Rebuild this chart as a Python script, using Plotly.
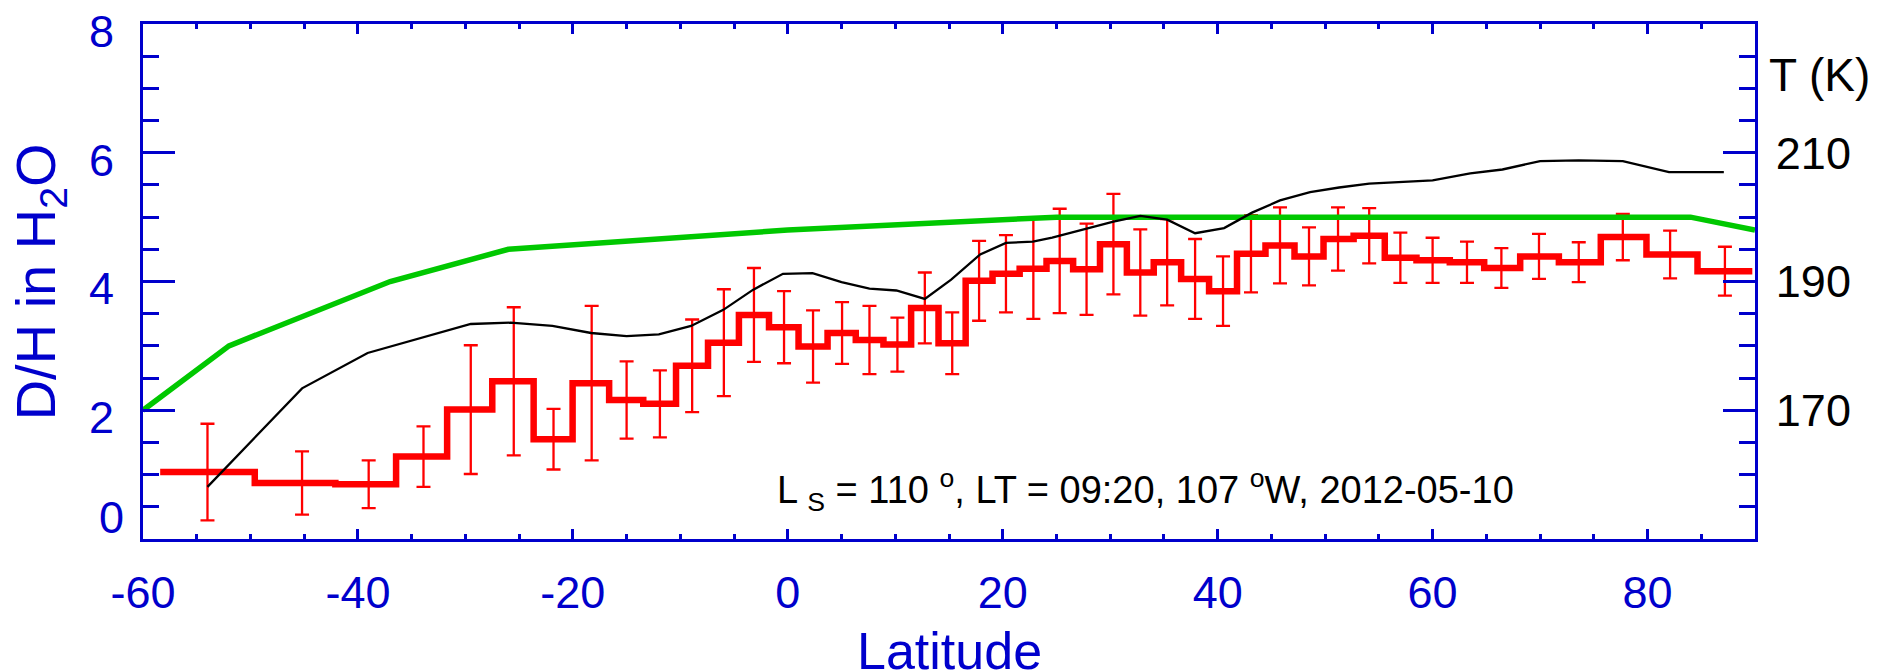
import plotly.graph_objects as go

# ---------------- data ----------------
# Retrieved D/H (red histogram with error bars)
dh_lat = [-54.0, -45.2, -39.0, -33.9, -29.5, -25.5, -21.8, -18.25, -15.0, -11.9,
          -8.9, -5.95, -3.15, -0.35, 2.35, 5.05, 7.6, 10.2, 12.75, 15.3,
          17.8, 20.3, 22.85, 25.3, 27.8, 30.3, 32.8, 35.3, 37.9, 40.5,
          43.1, 45.8, 48.5, 51.2, 54.1, 57.0, 60.0, 63.2, 66.4, 69.9,
          73.6, 77.7, 82.1, 87.2]
dh_val = [1.04, 0.87, 0.85, 1.28, 2.01, 2.45, 1.55, 2.42, 2.16, 2.10,
          2.69, 3.05, 3.48, 3.29, 2.99, 3.20, 3.09, 3.02, 3.59, 3.04,
          4.01, 4.12, 4.20, 4.32, 4.19, 4.58, 4.14, 4.30, 4.04, 3.85,
          4.43, 4.56, 4.39, 4.66, 4.71, 4.37, 4.33, 4.30, 4.21, 4.39,
          4.30, 4.69, 4.42, 4.16]
dh_err = [0.75, 0.49, 0.37, 0.47, 1.00, 1.15, 0.47, 1.20, 0.60, 0.52,
          0.72, 0.83, 0.73, 0.56, 0.56, 0.48, 0.53, 0.42, 0.55, 0.48,
          0.62, 0.60, 0.78, 0.81, 0.71, 0.78, 0.67, 0.67, 0.62, 0.54,
          0.60, 0.59, 0.45, 0.49, 0.43, 0.39, 0.35, 0.32, 0.31, 0.35,
          0.31, 0.36, 0.37, 0.38]

# Model D/H (green)
model_lat = [-60, -52, -37, -26, 0, 25, 84, 90]
model_dh = [2.0, 3.0, 4.0, 4.5, 4.8, 5.0, 5.0, 4.8]

# Temperature (black, right axis, K)
t_lat = [-54.0, -45.2, -39.1, -33.9, -29.5, -25.8, -21.9, -18.3, -15.0, -12.0,
         -9.0, -6.0, -3.25, -0.45, 2.3, 5.0, 7.6, 10.1, 12.75, 15.2,
         17.9, 20.3, 22.8, 24.6, 27.7, 30.3, 32.8, 35.3, 37.9, 40.6,
         43.2, 45.8, 48.6, 51.3, 54.1, 57.0, 60.0, 63.5, 66.5, 70.0,
         73.6, 77.7, 82.0, 87.1]
t_val = [158.1, 173.4, 178.9, 181.4, 183.4, 183.6, 183.1, 182.0, 181.5, 181.8,
         183.1, 185.6, 188.7, 191.2, 191.3, 189.9, 188.9, 188.6, 187.3, 190.3,
         194.2, 196.0, 196.2, 196.8, 198.1, 199.3, 200.2, 199.6, 197.5, 198.3,
         200.7, 202.6, 203.9, 204.6, 205.2, 205.4, 205.7, 206.8, 207.4, 208.7,
         208.8, 208.7, 207.0, 207.0]

x_ticks = [-60, -40, -20, 0, 20, 40, 60, 80]
x_ticktext = ["-60", "-40", "-20", "0", "20", "40", "60", "80"]
y_ticks = [2, 4, 6, 8]          # the "0" label sits raised, drawn separately
y_zero_label = "0"
y_zero_label_pos = 0.34
t_ticks = [170, 190, 210]

info_text = "L <sub>S</sub> = 110 <sup>o</sup>, LT = 09:20, 107 <sup>o</sup>W, 2012-05-10"

# ---------------- styling ----------------
BLUE = "#0000CC"
RED = "#FF0000"
GREEN = "#00C800"
FONT = "Liberation Sans, Arial, Helvetica, sans-serif"

# histogram-style step: extend half a bin beyond the first and last centres
x0 = dh_lat[0] - (dh_lat[1] - dh_lat[0]) / 2
x1 = dh_lat[-1] + (dh_lat[-1] - dh_lat[-2]) / 2
step_x = [x0] + dh_lat + [x1]
step_y = [dh_val[0]] + dh_val + [dh_val[-1]]

fig = go.Figure()

fig.add_trace(go.Scatter(
    x=step_x, y=step_y, mode="lines", line=dict(color=RED, width=6.5, shape="hvh"),
    hoverinfo="skip"))

fig.add_trace(go.Scatter(
    x=dh_lat, y=dh_val, mode="markers", marker=dict(size=1, color=RED),
    error_y=dict(type="data", array=dh_err, visible=True, color=RED,
                 thickness=2.3, width=7),
    hoverinfo="skip"))

fig.add_trace(go.Scatter(
    x=model_lat, y=model_dh, mode="lines", line=dict(color=GREEN, width=5.5),
    hoverinfo="skip"))

fig.add_trace(go.Scatter(
    x=t_lat, y=t_val, mode="lines", line=dict(color="black", width=2.3),
    yaxis="y2", hoverinfo="skip"))

fig.update_layout(
    width=1878, height=672,
    margin=dict(l=143, r=123, t=24, b=133, autoexpand=False),
    plot_bgcolor="white", paper_bgcolor="white",
    showlegend=False,
    font=dict(family=FONT, color=BLUE),
    xaxis=dict(
        range=[-60, 90], tickvals=x_ticks, ticktext=x_ticktext,
        ticks="inside", ticklen=10, tickwidth=2.5, tickcolor=BLUE,
        minor=dict(dtick=5, tick0=-60, ticks="inside", ticklen=5,
                   tickwidth=2.5, tickcolor=BLUE),
        showline=True, linecolor=BLUE, linewidth=2.7, mirror="ticks",
        showgrid=False, zeroline=False, automargin=False,
        tickfont=dict(size=45, color=BLUE, family=FONT),
        ticklabelstandoff=12, ticklabeloverflow="allow",
    ),
    yaxis=dict(
        range=[0, 8], tickvals=y_ticks, ticks="inside", ticklen=32,
        tickwidth=2.5, tickcolor=BLUE,
        minor=dict(dtick=0.5, tick0=0, ticks="inside", ticklen=16,
                   tickwidth=2.5, tickcolor=BLUE),
        showline=True, linecolor=BLUE, linewidth=2.7, mirror=True,
        showgrid=False, zeroline=False, automargin=False,
        tickfont=dict(size=45, color=BLUE, family=FONT),
        ticklabelstandoff=17, ticklabeloverflow="allow", ticklabelshift=7,
    ),
    yaxis2=dict(
        range=[150, 230], overlaying="y", side="right",
        tickvals=t_ticks, ticks="inside", ticklen=32,
        tickwidth=2.5, tickcolor=BLUE,
        minor=dict(dtick=5, tick0=150, ticks="inside", ticklen=16,
                   tickwidth=2.5, tickcolor=BLUE),
        showline=True, linecolor=BLUE, linewidth=2.7,
        showgrid=False, zeroline=False, automargin=False,
        tickfont=dict(size=45, color="black", family=FONT),
        ticklabelstandoff=9, ticklabeloverflow="allow",
    ),
    annotations=[
        dict(text=y_zero_label, xref="paper", yref="y", x=-0.0105,
             y=y_zero_label_pos, xanchor="right", yanchor="middle",
             showarrow=False, font=dict(size=45, color=BLUE, family=FONT)),
        dict(text="Latitude", xref="paper", yref="paper", x=0.5, y=-0.218,
             xanchor="center", yanchor="middle", showarrow=False,
             font=dict(size=52, color=BLUE, family=FONT)),
        dict(text="D/H in H<sub>2</sub>O", xref="paper", yref="paper",
             x=-0.064, y=0.5, xanchor="center", yanchor="middle",
             textangle=-90, showarrow=False,
             font=dict(size=56, color=BLUE, family=FONT)),
        dict(text="T (K)", xref="paper", yref="paper", x=1.0403, y=0.9,
             xanchor="center", yanchor="middle", showarrow=False,
             font=dict(size=46, color="black", family=FONT)),
        dict(text=info_text, xref="paper", yref="paper", x=0.392, y=0.095,
             xanchor="left", yanchor="middle", showarrow=False,
             font=dict(size=38, color="black", family=FONT)),
    ],
)

fig.write_html("out.html")
